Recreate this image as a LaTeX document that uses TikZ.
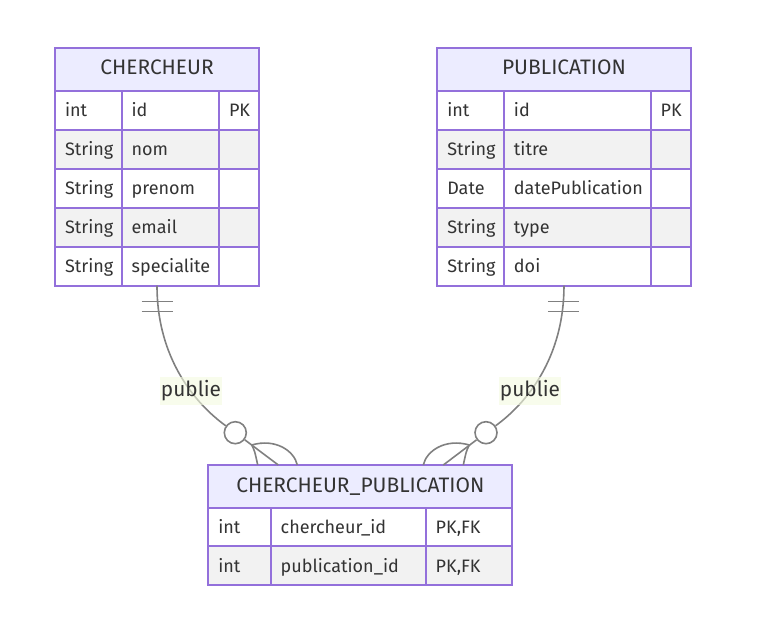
\documentclass[tikz,border=0pt]{standalone}
\usepackage{fontspec}
\setmainfont{Fira Sans}
\usetikzlibrary{positioning,calc}
\definecolor{erborder}{HTML}{9370DB}
\definecolor{erhead}{HTML}{ECECFF}
\definecolor{eralt}{HTML}{F2F2F2}
\definecolor{ertext}{HTML}{333333}
\definecolor{erline}{HTML}{808080}
\definecolor{erlabel}{HTML}{F4FAE0}

\begin{document}
\begin{tikzpicture}[x=0.75pt, y=-0.75pt,
            header/.style={draw=erborder, fill=erhead, line width=1.4pt, minimum height=32pt, inner sep=0pt, outer sep=0pt, anchor=north west, text=ertext, text height=10.5pt, text depth=2pt, font=\fontsize{15.7}{18}\selectfont},
            cell/.style={draw=erborder, line width=1.4pt, minimum height=29.25pt, inner xsep=7.5pt, inner ysep=0pt, outer sep=0pt, anchor=north west, align=left, text=ertext, text height=11.5pt, text depth=1.5pt, font=\fontsize{13.5}{16}\selectfont},
            row1/.style={fill=white},
            row0/.style={fill=eralt},
            rel/.style={draw=erline, line width=1.2pt},
            zeroring/.style={circle, draw=erline, line width=1.2pt, fill=white, minimum size=16.5pt, inner sep=0pt},
            rellabel/.style={fill=erlabel, fill opacity=0.6, text opacity=1, text=ertext, inner xsep=1pt, inner ysep=3pt, font=\fontsize{15.6}{18}\selectfont}
        ]
            \useasboundingbox (0,0) rectangle (762,634);

            % Table CHERCHEUR
            \node[header, minimum width=153pt] (cher) at (55,48) {CHERCHEUR};
            \foreach \ty/\nm/\ky [count=\i] in {int/id/PK, String/nom/{}, String/prenom/{}, String/email/{}, String/specialite/{}} {
                \pgfmathtruncatemacro\r{mod(\i,2)}
                \node[cell, row\r, text width=35pt] (chT\i) at ($(cher.south west)+(0,{(\i-1)*39})$) {\ty};
                \node[cell, row\r, text width=58pt, right=0pt of chT\i] (chN\i) {\nm};
                \node[cell, row\r, text width=15pt, right=0pt of chN\i] (chK\i) {\ky};
            }

            % Table PUBLICATION
            \node[header, minimum width=190pt] (pub) at (437.3,48) {PUBLICATION};
            \foreach \ty/\nm/\ky [count=\i] in {int/id/PK, String/titre/{}, Date/datePublication/{}, String/type/{}, String/doi/{}} {
                \pgfmathtruncatemacro\r{mod(\i,2)}
                \node[cell, row\r, text width=35pt] (puT\i) at ($(pub.south west)+(0,{(\i-1)*39})$) {\ty};
                \node[cell, row\r, text width=95pt, right=0pt of puT\i] (puN\i) {\nm};
                \node[cell, row\r, text width=15pt, right=0pt of puN\i] (puK\i) {\ky};
            }

            % Table CHERCHEUR_PUBLICATION
            \node[header, minimum width=228pt] (link) at (208.3,465) {CHERCHEUR\_PUBLICATION};
            \foreach \ty/\nm/\ky [count=\i] in {int/chercheur\_id/{PK,FK}, int/publication\_id/{PK,FK}} {
                \pgfmathtruncatemacro\r{mod(\i,2)}
                \node[cell, row\r, text width=31.8pt] (lkT\i) at ($(link.south west)+(0,{(\i-1)*38.5})$) {\ty};
                \node[cell, row\r, text width=101.25pt, right=0pt of lkT\i] (lkN\i) {\nm};
                \node[cell, row\r, text width=50pt, right=0pt of lkN\i] (lkK\i) {\ky};
            }

            % Ends of the relations
            \coordinate (cherEnd) at (cher.south |- chT5.south);
            \coordinate (pubEnd) at (pub.south |- puT5.south);
            \node[zeroring] (cherO) at (235.3,432.7) {};
            \node[zeroring] (pubO) at (486,432.7) {};
            \coordinate (cherFork) at ($(cherO)+(16.4,12.3)$);
            \coordinate (pubFork) at ($(pubO)+(-16.7,12.3)$);

            % CHERCHEUR -- CHERCHEUR_PUBLICATION
            \draw[rel] (cherEnd) .. controls +(0,73) and +(-40,-29) .. (cherO);
            \draw[rel] ($(cherEnd)+(-15.5,16)$) -- ($(cherEnd)+(16,16)$);
            \draw[rel] ($(cherEnd)+(-15.5,26)$) -- ($(cherEnd)+(16,26)$);
            \draw[rel] (cherO) -- ($(link.north)+(-82,0)$);
            \draw[rel] (cherFork) .. controls +(3,6) .. ($(link.north)+(-102.6,0)$);
            \draw[rel] (cherFork) .. controls +(24,-7) and +(-3,-14) .. ($(link.north)+(-63,0)$);

            % PUBLICATION -- CHERCHEUR_PUBLICATION
            \draw[rel] (pubEnd) .. controls +(0,73) and +(40,-29) .. (pubO);
            \draw[rel] ($(pubEnd)+(-16,16)$) -- ($(pubEnd)+(15.5,16)$);
            \draw[rel] ($(pubEnd)+(-16,26)$) -- ($(pubEnd)+(15.5,26)$);
            \draw[rel] (pubO) -- ($(link.north)+(83,0)$);
            \draw[rel] (pubFork) .. controls +(-3,6) .. ($(link.north)+(103,0)$);
            \draw[rel] (pubFork) .. controls +(-24,-7) and +(3,-14) .. ($(link.north)+(63,0)$);

            % Labels
            \node[rellabel] (labL) at (191,391) {publie};
            \node[rellabel] (labR) at (530,391) {publie};
        \end{tikzpicture}
\end{document}
